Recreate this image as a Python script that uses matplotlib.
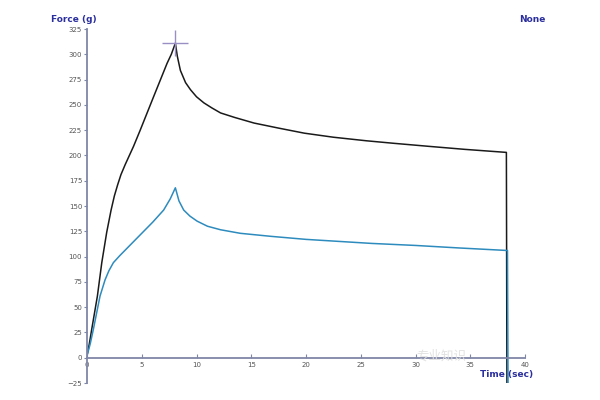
import matplotlib.pyplot as plt

plt.rcParams['font.family'] = ['DejaVu Sans', 'Noto Sans CJK SC']

# black trace (sample 1)
t_black = [0, 0.2, 0.43, 0.95, 1.35, 1.8, 2.2, 2.5, 2.8, 3.1, 3.49, 4.25, 4.86, 6.08, 7.31, 7.7, 8.07,
           8.25, 8.53, 9.0, 9.45, 10.0, 10.67, 11.4, 12.2, 13.5, 15.26, 17.5, 19.85,
           22.5, 25.5, 28.0, 31.2, 34.5, 38.3, 38.35]
f_black = [2, 13, 28, 61, 94, 124, 146, 160, 171, 181, 191, 209, 225, 258, 291, 300, 311,
           298, 284, 272, 265, 258, 252, 247, 242, 237.5, 232, 227, 222,
           218, 214.5, 212, 209, 206, 203, -27]

# blue trace (sample 2)
t_blue = [0, 0.3, 0.58, 1.19, 1.65, 2.0, 2.41, 3.0, 4.0, 5.0, 6.0, 7.0, 7.6, 8.07,
          8.4, 8.83, 9.4, 10.06, 11.0, 12.2, 14.0, 16.8, 20.0, 23.0, 26.0, 30.0,
          34.0, 38.4, 38.45]
f_blue = [2, 14, 28, 61, 77, 86, 94, 101, 112, 123, 134, 146, 157, 168,
          155, 146, 140, 135, 130, 126.5, 123, 120, 117, 115, 113, 111,
          108.5, 106, -25]

peak_t, peak_f = 8.07, 311

xticks = [0, 5, 10, 15, 20, 25, 30, 35, 40]
yticks = [-25, 0, 25, 50, 75, 100, 125, 150, 175, 200, 225, 250, 275, 300, 325]

axis_col = '#7f86a6'
label_col = '#2b2f9e'

fig = plt.figure(figsize=(6, 4), dpi=100)
ax = fig.add_axes([0.145, 0.0425, 0.73, 0.885])

ax.plot(t_black, f_black, color='#1a1a1a', lw=1.1)
ax.plot(t_blue, f_blue, color='#2e8bbd', lw=1.1)
ax.plot([peak_t], [peak_f], marker='+', ms=19, mew=1, color='#9a8fc2')

ax.set_xlim(0, 40)
ax.set_ylim(-25, 325)
ax.spines['top'].set_visible(False)
ax.spines['right'].set_visible(False)
ax.spines['bottom'].set_position(('data', 0))
for s in ['left', 'bottom']:
    ax.spines[s].set_color(axis_col)
    ax.spines[s].set_linewidth(1.3)

ax.set_xticks(xticks)
ax.set_yticks(yticks)
ax.tick_params(axis='x', direction='in', length=3, color=axis_col, labelsize=5,
               labelcolor='#555555', pad=3)
ax.tick_params(axis='y', direction='out', length=2.5, color=axis_col, labelsize=5,
               labelcolor='#555555', pad=1)

fig.text(0.123, 0.952, 'Force (g)', color=label_col, fontsize=6.5, fontweight='bold',
         ha='center', va='center')
fig.text(0.887, 0.952, 'None', color=label_col, fontsize=6.5, fontweight='bold',
         ha='center', va='center')
fig.text(0.845, 0.0625, 'Time (sec)', color=label_col, fontsize=6.5, fontweight='bold',
         ha='center', va='center')
fig.text(0.735, 0.11, '专业知识', color='#e2e2e2', fontsize=9, ha='center', va='center',
         family=['Noto Sans CJK SC'])

fig.savefig('out.png', dpi=100)
